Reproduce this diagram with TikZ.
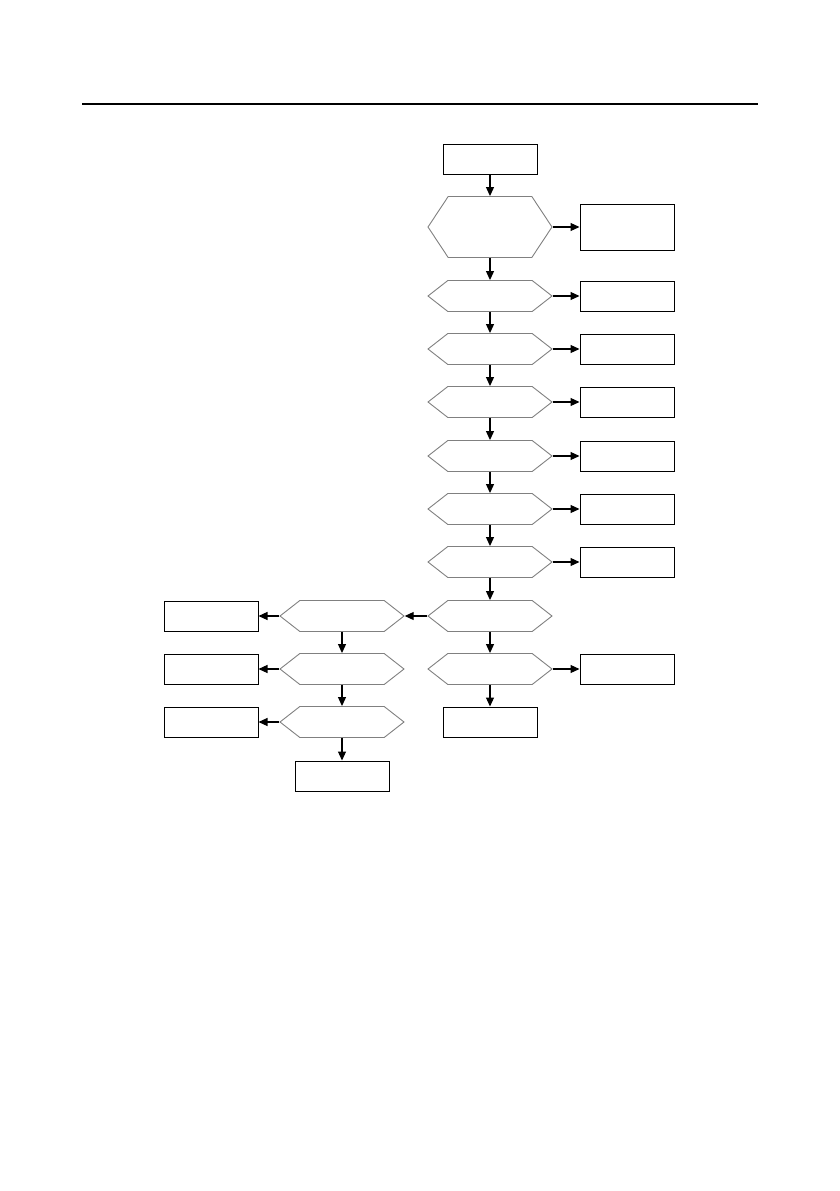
\documentclass[tikz,border=0pt]{standalone}
\usepackage{amsmath}
\usepackage{tikz}
\usetikzlibrary{shapes.symbols,arrows.meta}

\begin{document}
\begin{tikzpicture}[x=1pt,y=-1pt,
  box/.style={draw,line width=1pt,minimum width=94pt,minimum height=30pt,inner sep=0pt},
  hex/.style={draw=gray,line width=0.9pt,signal,signal to=east and west,signal pointer angle=76,minimum width=124pt,minimum height=31pt,inner sep=0pt},
  arr/.style={line width=1.1pt,-{Triangle[length=9pt,width=8pt]}}]
\useasboundingbox (0,0) rectangle (839,1191);
%rule on top
\coordinate (ra) at (82,104); \coordinate (rb) at (758,104);
\draw [line width=2pt] (ra)--(rb);

%main column
\node [box] (s0) at (490,159){};
\node [hex,signal pointer angle=113,minimum height=61pt] (h1) at (490,227){};
\node [hex] (h2) at (490,296){}; \node [hex] (h3) at (490,349){}; \node [hex] (h4) at (490,402){};
\node [hex] (h5) at (490,456){}; \node [hex] (h6) at (490,509){}; \node [hex] (h7) at (490,562){};
\node [hex] (h8) at (490,616){}; \node [hex] (h9) at (490,669){};
\node [box] (e1) at (490,722){};

%right boxes
\node [box,minimum height=46pt] (r1) at (627,227){};
\node [box] (r2) at (627,296){}; \node [box] (r3) at (627,349){}; \node [box] (r4) at (627,402){};
\node [box] (r5) at (627,456){}; \node [box] (r6) at (627,509){}; \node [box] (r7) at (627,562){};
\node [box] (r9) at (627,669){};

%left column
\node [hex] (l1) at (342,616){}; \node [hex] (l2) at (342,669){}; \node [hex] (l3) at (342,722){};
\node [box] (e2) at (342,776){};
\node [box] (k1) at (211,616){}; \node [box] (k2) at (211,669){}; \node [box] (k3) at (211,722){};

%arrows
\draw [arr] (s0)--(h1); \draw [arr] (h1)--(h2); \draw [arr] (h2)--(h3); \draw [arr] (h3)--(h4);
\draw [arr] (h4)--(h5); \draw [arr] (h5)--(h6); \draw [arr] (h6)--(h7); \draw [arr] (h7)--(h8);
\draw [arr] (h8)--(h9); \draw [arr] (h9)--(e1);
\draw [arr] (h1.east)--(r1); \draw [arr] (h2.east)--(r2); \draw [arr] (h3.east)--(r3); \draw [arr] (h4.east)--(r4);
\draw [arr] (h5.east)--(r5); \draw [arr] (h6.east)--(r6); \draw [arr] (h7.east)--(r7); \draw [arr] (h9.east)--(r9);
\draw [arr] (h8.west)--(l1.east);
\draw [arr] (l1)--(l2); \draw [arr] (l2)--(l3); \draw [arr] (l3)--(e2);
\draw [arr] (l1.west)--(k1); \draw [arr] (l2.west)--(k2); \draw [arr] (l3.west)--(k3);
\end{tikzpicture}
\end{document}
